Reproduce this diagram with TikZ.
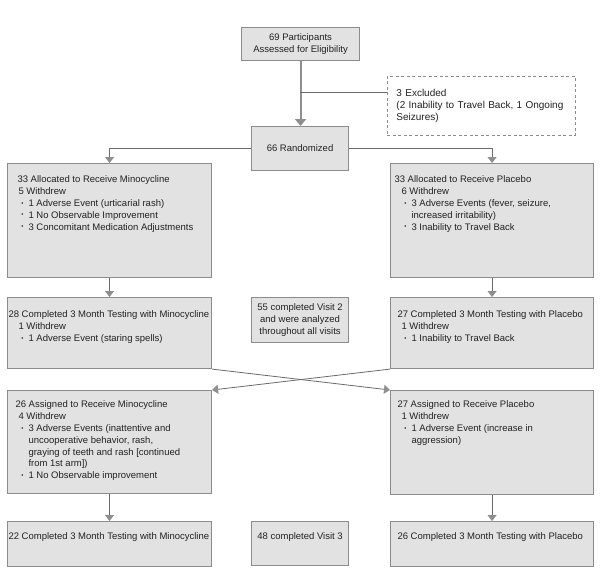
\documentclass[tikz,border=0pt]{standalone}
\usepackage{fontspec}
\setmainfont{Liberation Sans}
\usetikzlibrary{arrows.meta,positioning}

\definecolor{boxfill}{HTML}{E2E2E2}
\definecolor{boxline}{HTML}{8C8C8C}
\definecolor{linkgray}{HTML}{6A6A6A}
\definecolor{headgray}{HTML}{8E8E8E}
\definecolor{inkgray}{HTML}{222222}

% box body: width, height, gap above first line, lines
\newcommand{\armtext}[4]{%
  \begin{minipage}[t][#2pt][t]{#1pt}\raggedright\vspace*{#3pt}#4\end{minipage}}
\newcommand{\armhead}[2]{{\leftskip=#1pt\strut#2\par}}
\newcommand{\armwd}[1]{{\leftskip=11pt\strut#1\par}}
\newcommand{\armitem}[1]{{\leftskip=21pt\strut\llap{\raisebox{1.3pt}{\fontsize{6}{6}\selectfont\textbullet}\hspace{5pt}}#1\par}}

\begin{document}
\begin{tikzpicture}[
    x=1pt, y=-1pt,
    font=\fontsize{9.5}{11.8}\selectfont,
    text=inkgray,
    arm/.style={draw=boxline, fill=boxfill, line width=1.1pt, inner sep=0pt, anchor=north west},
    main/.style={draw=headgray, line width=2pt, -{Triangle[width=11pt,length=7pt]}},
    link/.style={draw=linkgray, line width=0.8pt},
    flow/.style={link, -{Triangle[width=9pt,length=6pt,color=headgray]}}
]
\useasboundingbox (0,0) rectangle (600,574);

% enrolment
\node[arm, minimum width=118, minimum height=33, align=center] (elig) at (241,27) {69 Participants\\Assessed for Eligibility};
\node[arm, fill=white, line width=0.9pt, dash pattern=on 3pt off 2.5pt, minimum width=188, minimum height=59,
      text width=170, align=left, font=\fontsize{10}{12}\selectfont] (excl) at (387,76)
      {3 Excluded\\(2 Inability to Travel Back, 1 Ongoing\\Seizures)};
\node[arm, minimum width=97, minimum height=44] (rand) at (251,126) {66 Randomized};

\coordinate (split) at (300,92);
\draw[main] (elig.south) -- (elig.south |- rand.north);
\draw[link] (split) -- (split -| excl.west);

% first arm
\node[arm] (allocM) at (7,163) {\armtext{204}{114}{11}{%
  \armhead{10}{33 Allocated to Receive Minocycline}
  \armwd{5 Withdrew}
  \armitem{1 Adverse Event (urticarial rash)}
  \armitem{1 No Observable Improvement}
  \armitem{3 Concomitant Medication Adjustments}}};
\node[arm] (allocP) at (390,163) {\armtext{203}{114}{11}{%
  \armhead{4}{33 Allocated to Receive Placebo}
  \armwd{6 Withdrew}
  \armitem{3 Adverse Events (fever, seizure,\\increased irritability)}
  \armitem{3 Inability to Travel Back}}};

\node[arm] (compM) at (7,297) {\armtext{204}{71}{12}{%
  \armhead{1}{28 Completed 3 Month Testing with Minocycline}
  \armwd{1 Withdrew}
  \armitem{1 Adverse Event (staring spells)}}};
\node[arm, minimum width=97, minimum height=45, align=center] (visit2) at (251,297)
  {55 completed Visit 2\\and were analyzed\\throughout all visits};
\node[arm] (compP) at (390,297) {\armtext{203}{71}{12}{%
  \armhead{7}{27 Completed 3 Month Testing with Placebo}
  \armwd{1 Withdrew}
  \armitem{1 Inability to Travel Back}}};

% crossover
\node[arm] (assignM) at (7,390) {\armtext{204}{103}{9}{%
  \armhead{8}{26 Assigned to Receive Minocycline}
  \armwd{4 Withdrew}
  \armitem{3 Adverse Events (inattentive and\\uncooperative behavior, rash,\\graying of teeth and rash [continued\\from 1st arm])}
  \armitem{1 No Observable improvement}}};
\node[arm] (assignP) at (390,390) {\armtext{203}{104}{9}{%
  \armhead{7}{27 Assigned to Receive Placebo}
  \armwd{1 Withdrew}
  \armitem{1 Adverse Event (increase in\\aggression)}}};

\node[arm] (finalM) at (7,521) {\armtext{204}{45}{10}{%
  \armhead{1}{22 Completed 3 Month Testing with Minocycline}}};
\node[arm] (visit3) at (251,521) {\armtext{97}{44}{10}{\centering\strut 48 completed Visit 3\par}};
\node[arm] (finalP) at (390,521) {\armtext{203}{45}{10}{%
  \armhead{7}{26 Completed 3 Month Testing with Placebo}}};

\draw[flow] (rand.west) -| (allocM.north);
\draw[flow] (rand.east) -| (allocP.north);
\draw[flow] (allocM) -- (compM);
\draw[flow] (allocP) -- (compP);
\draw[flow] (compM.south east) -- (assignP.north west);
\draw[flow] (compP.south west) -- (assignM.north east);
\draw[flow] (assignM) -- (finalM);
\draw[flow] (assignP) -- (finalP);
\end{tikzpicture}
\end{document}
